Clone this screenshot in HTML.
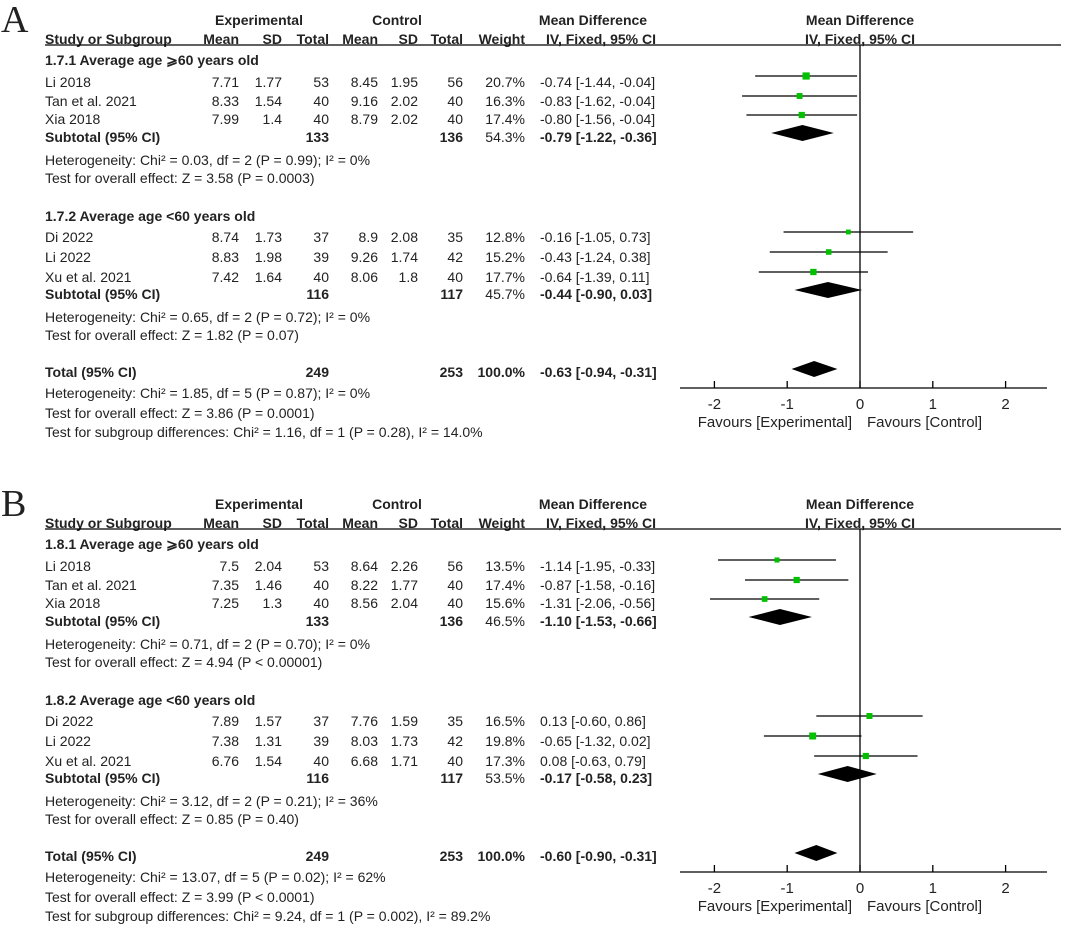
<!DOCTYPE html>
<html><head><meta charset="utf-8"><style>
html,body{margin:0;padding:0;background:#fff;}
svg{display:block;font-family:"Liberation Sans",Arial,sans-serif;}
</style></head><body>
<svg id="chart" width="1065" height="925" viewBox="0 0 1065 925">
<defs><clipPath id="clipA"><rect x="0" y="0" width="1065" height="441"/></clipPath></defs>
<g id="panelA" clip-path="url(#clipA)"></g>
<g id="panelB"></g>
</svg>
<script>
// ---- Panel A data ----
const aLabels = ["Li 2018","Tan et al. 2021","Xia 2018","Di 2022","Li 2022","Xu et al. 2021"];
const aExpMean = ["7.71","8.33","7.99","8.74","8.83","7.42"];
const aExpSD = ["1.77","1.54","1.4","1.73","1.98","1.64"];
const aExpN = ["53","40","40","37","39","40"];
const aCtlMean = ["8.45","9.16","8.79","8.9","9.26","8.06"];
const aCtlSD = ["1.95","2.02","2.02","2.08","1.74","1.8"];
const aCtlN = ["56","40","40","35","42","40"];
const aWeight = [20.7,16.3,17.4,12.8,15.2,17.7];
const aMD = [-0.74,-0.83,-0.80,-0.16,-0.43,-0.64];
const aLo = [-1.44,-1.62,-1.56,-1.05,-1.24,-1.39];
const aHi = [-0.04,-0.04,-0.04,0.73,0.38,0.11];
const aSubMD = [-0.79,-0.44], aSubLo=[-1.22,-0.90], aSubHi=[-0.36,0.03];
const aSubW = ["54.3%","45.7%"], aSubExpN=["133","116"], aSubCtlN=["136","117"];
const aTot = [-0.63,-0.94,-0.31];
const aText = {
 g1:"1.7.1 Average age \u2A7E60 years old", g2:"1.7.2 Average age <60 years old",
 h1:"Heterogeneity: Chi\u00B2 = 0.03, df = 2 (P = 0.99); I\u00B2 = 0%", t1:"Test for overall effect: Z = 3.58 (P = 0.0003)",
 h2:"Heterogeneity: Chi\u00B2 = 0.65, df = 2 (P = 0.72); I\u00B2 = 0%", t2:"Test for overall effect: Z = 1.82 (P = 0.07)",
 ht:"Heterogeneity: Chi\u00B2 = 1.85, df = 5 (P = 0.87); I\u00B2 = 0%", tt:"Test for overall effect: Z = 3.86 (P = 0.0001)",
 ts:"Test for subgroup differences: Chi\u00B2 = 1.16, df = 1 (P = 0.28), I\u00B2 = 14.0%"};
// ---- Panel B data ----
const bLabels = ["Li 2018","Tan et al. 2021","Xia 2018","Di 2022","Li 2022","Xu et al. 2021"];
const bExpMean = ["7.5","7.35","7.25","7.89","7.38","6.76"];
const bExpSD = ["2.04","1.46","1.3","1.57","1.31","1.54"];
const bExpN = ["53","40","40","37","39","40"];
const bCtlMean = ["8.64","8.22","8.56","7.76","8.03","6.68"];
const bCtlSD = ["2.26","1.77","2.04","1.59","1.73","1.71"];
const bCtlN = ["56","40","40","35","42","40"];
const bWeight = [13.5,17.4,15.6,16.5,19.8,17.3];
const bMD = [-1.14,-0.87,-1.31,0.13,-0.65,0.08];
const bLo = [-1.95,-1.58,-2.06,-0.60,-1.32,-0.63];
const bHi = [-0.33,-0.16,-0.56,0.86,0.02,0.79];
const bSubMD = [-1.10,-0.17], bSubLo=[-1.53,-0.58], bSubHi=[-0.66,0.23];
const bSubW = ["46.5%","53.5%"], bSubExpN=["133","116"], bSubCtlN=["136","117"];
const bTot = [-0.60,-0.90,-0.31];
const bText = {
 g1:"1.8.1 Average age \u2A7E60 years old", g2:"1.8.2 Average age <60 years old",
 h1:"Heterogeneity: Chi\u00B2 = 0.71, df = 2 (P = 0.70); I\u00B2 = 0%", t1:"Test for overall effect: Z = 4.94 (P < 0.00001)",
 h2:"Heterogeneity: Chi\u00B2 = 3.12, df = 2 (P = 0.21); I\u00B2 = 36%", t2:"Test for overall effect: Z = 0.85 (P = 0.40)",
 ht:"Heterogeneity: Chi\u00B2 = 13.07, df = 5 (P = 0.02); I\u00B2 = 62%", tt:"Test for overall effect: Z = 3.99 (P < 0.0001)",
 ts:"Test for subgroup differences: Chi\u00B2 = 9.24, df = 1 (P = 0.002), I\u00B2 = 89.2%"};
const ticks = [-2,-1,0,1,2];

const NS="http://www.w3.org/2000/svg";
const xS = v => 860 + v*72.8;
function fmt(v){return (v<0?"-":"")+Math.abs(v).toFixed(2);}
function ci(m,l,h){return fmt(m)+" ["+fmt(l)+", "+fmt(h)+"]";}
function el(g,tag,attrs){const e=document.createElementNS(NS,tag);for(const k in attrs)e.setAttribute(k,attrs[k]);g.appendChild(e);return e;}
function txt(g,x,y,s,anchor,bold,name,size,fam){
  const t=el(g,"text",{x:x,y:y,"font-size":size||14,"text-anchor":anchor||"start",fill:"#222"});
  if(bold)t.setAttribute("font-weight","bold");
  if(fam)t.setAttribute("font-family",fam);
  t.textContent=s;
  
  
  return t;
}
function diamond(g,y,m,l,h,name){
  const p=el(g,"polygon",{points:xS(l)+","+y+" "+xS(m)+","+(y-8)+" "+xS(h)+","+y+" "+xS(m)+","+(y+8),fill:"#000"});
  
  
}
function panel(g,o,letter,L,EM,ES,EN,CM,CS,CN,W,MD,LO,HI,SM,SL,SH,SW,SEN,SCN,TOT,T){
  txt(g,1,o+32,letter,"start",false,"panel-letter",38,'"Liberation Serif",serif');
  txt(g,259,o+25,"Experimental","middle",true,"experimental-header");
  txt(g,397,o+25,"Control","middle",true,"control-header");
  txt(g,593,o+25,"Mean Difference","middle",true,"md-header");
  txt(g,860,o+25,"Mean Difference","middle",true,"plot-md-header");
  const hy=o+44;
  txt(g,45,hy,"Study or Subgroup","start",true,"study-header");
  txt(g,239,hy,"Mean","end",true,"exp-mean-header");
  txt(g,282,hy,"SD","end",true,"exp-sd-header");
  txt(g,329,hy,"Total","end",true,"exp-total-header");
  txt(g,378,hy,"Mean","end",true,"ctl-mean-header");
  txt(g,418,hy,"SD","end",true,"ctl-sd-header");
  txt(g,463,hy,"Total","end",true,"ctl-total-header");
  txt(g,525,hy,"Weight","end",true,"weight-header");
  txt(g,601,hy,"IV, Fixed, 95% CI","middle",true,"ci-header");
  txt(g,860,hy,"IV, Fixed, 95% CI","middle",true,"plot-ci-header");
  el(g,"line",{x1:45,y1:o+45,x2:1061,y2:o+45,stroke:"#000","stroke-width":1.3});
  const rowY=[o+87,o+106,o+124,o+242,o+262,o+282];
  const markY=[o+76,o+96,o+115,o+232,o+252,o+272];
  const subY=[o+142,o+299], subM=[o+133,o+290];
  txt(g,45,o+65,T.g1,"start",true,"subgroup-1-title");
  txt(g,45,o+221,T.g2,"start",true,"subgroup-2-title");
  for(let i=0;i<6;i++){
    const y=rowY[i];
    txt(g,45,y,L[i],"start",false,"study-name");
    txt(g,239,y,EM[i],"end",false,"exp-mean");
    txt(g,282,y,ES[i],"end",false,"exp-sd");
    txt(g,329,y,EN[i],"end",false,"exp-total");
    txt(g,378,y,CM[i],"end",false,"ctl-mean");
    txt(g,418,y,CS[i],"end",false,"ctl-sd");
    txt(g,463,y,CN[i],"end",false,"ctl-total");
    txt(g,525,y,W[i].toFixed(1)+"%","end",false,"weight");
    txt(g,540,y,ci(MD[i],LO[i],HI[i]),"start",false,"ci-text");
    const cy=markY[i];
    const ln=el(g,"line",{x1:xS(LO[i]),y1:cy,x2:xS(HI[i]),y2:cy,stroke:"#000","stroke-width":1.2});
    
    
    const s=1+W[i]*0.3;
    const r=el(g,"rect",{x:xS(MD[i])-s/2,y:cy-s/2,width:s,height:s,fill:"#00c000"});
    
    
  }
  const hh=[T.h1,T.h2], tt=[T.t1,T.t2];
  for(let j=0;j<2;j++){
    const y=subY[j];
    txt(g,45,y,"Subtotal (95% CI)","start",true,"subtotal-label");
    txt(g,329,y,SEN[j],"end",true,"subtotal-exp-n");
    txt(g,463,y,SCN[j],"end",true,"subtotal-ctl-n");
    txt(g,525,y,SW[j],"end",false,"subtotal-weight");
    txt(g,540,y,ci(SM[j],SL[j],SH[j]),"start",true,"subtotal-ci");
    diamond(g,subM[j],SM[j],SL[j],SH[j],"subtotal-diamond");
    txt(g,45,y+23,hh[j],"start",false,"heterogeneity");
    txt(g,45,y+41,tt[j],"start",false,"overall-effect");
  }
  const ty=o+377;
  txt(g,45,ty,"Total (95% CI)","start",true,"total-label");
  txt(g,329,ty,"249","end",true,"total-exp-n");
  txt(g,463,ty,"253","end",true,"total-ctl-n");
  txt(g,525,ty,"100.0%","end",true,"total-weight");
  txt(g,540,ty,ci(TOT[0],TOT[1],TOT[2]),"start",true,"total-ci");
  diamond(g,o+369,TOT[0],TOT[1],TOT[2],"total-diamond");
  txt(g,45,o+398,T.ht,"start",false,"total-heterogeneity");
  txt(g,45,o+418,T.tt,"start",false,"total-overall-effect");
  txt(g,45,o+437,T.ts,"start",false,"subgroup-differences");
  el(g,"line",{x1:860,y1:o+45,x2:860,y2:o+388,stroke:"#000","stroke-width":1.3});
  const ax=el(g,"line",{x1:680,y1:o+388,x2:1047,y2:o+388,stroke:"#000","stroke-width":1.3});
  
  
  ticks.forEach(v=>{
    el(g,"line",{x1:xS(v),y1:o+381,x2:xS(v),y2:o+388,stroke:"#000","stroke-width":1.3});
    txt(g,xS(v),o+409,String(v),"middle",false,"tick-label",15);
  });
  txt(g,852,o+427,"Favours [Experimental]","end",false,"favours-experimental",15);
  txt(g,867,o+427,"Favours [Control]","start",false,"favours-control",15);
}
panel(document.getElementById("panelA"),0,"A",aLabels,aExpMean,aExpSD,aExpN,aCtlMean,aCtlSD,aCtlN,aWeight,aMD,aLo,aHi,aSubMD,aSubLo,aSubHi,aSubW,aSubExpN,aSubCtlN,aTot,aText);
panel(document.getElementById("panelB"),484,"B",bLabels,bExpMean,bExpSD,bExpN,bCtlMean,bCtlSD,bCtlN,bWeight,bMD,bLo,bHi,bSubMD,bSubLo,bSubHi,bSubW,bSubExpN,bSubCtlN,bTot,bText);
</script>
</body></html>
